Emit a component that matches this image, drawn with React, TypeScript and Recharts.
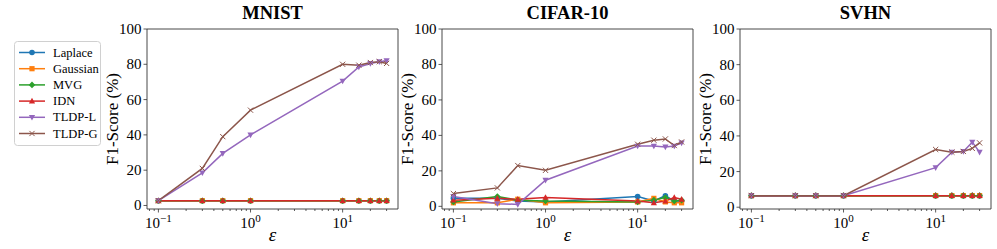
import React from 'react';
import { LineChart, Line, XAxis, YAxis, ReferenceArea } from 'recharts';

// epsilon values shared by all three panels
const epsValues = [0.1, 0.3, 0.5, 1, 10, 15, 20, 25, 30];

const seriesNames = ['Laplace', 'Gaussian', 'MVG', 'IDN', 'TLDP-L', 'TLDP-G'];
const seriesKeys = ['laplace', 'gaussian', 'mvg', 'idn', 'tldpL', 'tldpG'];
const seriesColors = ['#1f77b4', '#ff7f0e', '#2ca02c', '#d62728', '#9467bd', '#8c564b'];
const seriesMarkers = ['circle', 'square', 'diamond', 'triangle', 'triangleDown', 'x'];

// MNIST
const mnistLaplace = [2.7, 2.7, 2.7, 2.7, 2.7, 2.7, 2.7, 2.7, 2.7];
const mnistGaussian = [2.7, 2.7, 2.7, 2.7, 2.7, 2.7, 2.7, 2.7, 2.7];
const mnistMvg = [2.7, 2.7, 2.7, 2.7, 2.7, 2.7, 2.7, 2.7, 2.7];
const mnistIdn = [2.7, 2.7, 2.7, 2.7, 2.7, 2.7, 2.7, 2.7, 2.7];
const mnistTldpL = [2.7, 18.5, 29.5, 40, 70.5, 78.5, 80.5, 81.5, 82];
const mnistTldpG = [2.7, 21, 39, 54, 80, 79.5, 81, 81.5, 80.5];

// CIFAR-10
const cifarLaplace = [4.5, 4.5, 3, 2.5, 5.5, 3, 6, 3, 3];
const cifarGaussian = [2, 2, 4, 2, 2.5, 4.5, 2.5, 2, 2];
const cifarMvg = [2.5, 5.5, 3.5, 3, 2.5, 3.5, 5, 3, 3.5];
const cifarIdn = [3.5, 4.5, 4, 5, 3, 2, 3, 5, 4];
const cifarTldpL = [5.6, 1.5, 1.1, 14.7, 34, 34, 33.5, 34, 35.8];
const cifarTldpG = [7.2, 10.4, 23, 20.3, 35, 37.3, 38, 34.3, 36.3];

// SVHN
const svhnLaplace = [6.5, 6.5, 6.5, 6.5, 6.5, 6.5, 6.5, 6.5, 6.5];
const svhnGaussian = [6.5, 6.5, 6.5, 6.5, 6.5, 6.5, 6.5, 6.5, 6.5];
const svhnMvg = [6.5, 6.5, 6.5, 6.5, 6.5, 6.5, 6.5, 6.5, 6.5];
const svhnIdn = [6.5, 6.5, 6.5, 6.5, 6.5, 6.5, 6.5, 6.5, 6.5];
const svhnTldpL = [6.5, 6.5, 6.5, 6.5, 22.2, 30.9, 31.3, 36.5, 30.9];
const svhnTldpG = [6.5, 6.5, 6.5, 6.5, 32.4, 30.9, 31.3, 33, 36.1];

const yTicks = [0, 20, 40, 60, 80, 100];
const xMajorTicks = [0.1, 1, 10];
const xMinorTicks = [0.08, 0.09, 0.2, 0.3, 0.4, 0.5, 0.6, 0.7, 0.8, 0.9, 2, 3, 4, 5, 6, 7, 8, 9, 20, 30];
const xDomain: [number, number] = [0.0752, 39.9];

const FONT = '"Liberation Serif", "Times New Roman", serif';
const AXIS = '#333';

const buildRows = (cols: number[][]) =>
  epsValues.map((eps, i) => {
    const row: Record<string, number> = { eps };
    seriesKeys.forEach((k, j) => (row[k] = cols[j][i]));
    return row;
  });

const Marker = ({ shape, color, cx, cy }: { shape: string; color: string; cx: number; cy: number }) => {
  if (cx == null || cy == null) return null;
  switch (shape) {
    case 'circle':
      return <circle cx={cx} cy={cy} r={2.8} fill={color} />;
    case 'square':
      return <rect x={cx - 2.6} y={cy - 2.6} width={5.2} height={5.2} fill={color} />;
    case 'diamond':
      return <polygon points={`${cx},${cy - 3.3} ${cx + 3.3},${cy} ${cx},${cy + 3.3} ${cx - 3.3},${cy}`} fill={color} />;
    case 'triangle':
      return <polygon points={`${cx},${cy - 3.3} ${cx + 3.1},${cy + 2.4} ${cx - 3.1},${cy + 2.4}`} fill={color} />;
    case 'triangleDown':
      return <polygon points={`${cx},${cy + 3.3} ${cx + 3.1},${cy - 2.4} ${cx - 3.1},${cy - 2.4}`} fill={color} />;
    default:
      return (
        <g stroke={color} strokeWidth={1}>
          <line x1={cx - 2.6} y1={cy - 2.6} x2={cx + 2.6} y2={cy + 2.6} />
          <line x1={cx - 2.6} y1={cy + 2.6} x2={cx + 2.6} y2={cy - 2.6} />
        </g>
      );
  }
};

const XTick = (props: any) => {
  const { x, y, payload } = props;
  const v = payload.value;
  const major = xMajorTicks.includes(v);
  const exp = Math.round(Math.log10(v));
  return (
    <g>
      <line x1={x} x2={x} y1={y} y2={y + (major ? 3.5 : 2)} stroke={AXIS} strokeWidth={0.8} />
      {major && (
        <text x={x} y={y + 19} textAnchor="middle" fontSize={15} fill="#000" fontFamily={FONT}>
          10
          <tspan dy={-6} fontSize={11}>{exp < 0 ? '\u2212' + Math.abs(exp) : String(exp)}</tspan>
        </text>
      )}
    </g>
  );
};

const YTick = (props: any) => {
  const { x, y, payload } = props;
  return (
    <g>
      <line x1={x - 3.5} x2={x} y1={y} y2={y} stroke={AXIS} strokeWidth={0.8} />
      <text x={x - 5.5} y={y} textAnchor="end" dominantBaseline="central" fontSize={15} fill="#000" fontFamily={FONT}>
        {payload.value}
      </text>
    </g>
  );
};

const renderYLabel = (props: any) => {
  const { viewBox } = props;
  const cx = viewBox.x + viewBox.width - 35;
  const cy = viewBox.y + viewBox.height / 2;
  return (
    <text x={cx} y={cy} transform={`rotate(-90 ${cx} ${cy})`} textAnchor="middle" dominantBaseline="central"
      fontSize={17} fill="#000" fontFamily={FONT}>
      F1-Score (%)
    </text>
  );
};

interface PanelProps {
  title: string;
  rows: Record<string, number>[];
  left: number;
  yMin: number;
}

const Panel = ({ title, rows, left, yMin }: PanelProps) => (
  <div style={{ position: 'absolute', left, top: 0 }}>
    <LineChart width={301} height={249} data={rows} margin={{ top: 29, right: 5, bottom: 0, left: 0 }}>
      <XAxis
        dataKey="eps"
        type="number"
        scale="log"
        domain={xDomain}
        allowDataOverflow
        ticks={[...xMajorTicks, ...xMinorTicks]}
        interval={0}
        tick={<XTick />}
        tickLine={false}
        tickSize={0}
        tickMargin={0}
        axisLine={false}
        height={40}
        label={{ value: '\u03b5', position: 'insideBottom', offset: 8, fontSize: 19, fontStyle: 'italic', fill: '#000', fontFamily: FONT }}
      />
      <YAxis
        type="number"
        domain={[yMin, 100]}
        allowDataOverflow
        ticks={yTicks}
        interval={0}
        tick={<YTick />}
        tickLine={false}
        tickSize={0}
        tickMargin={0}
        axisLine={false}
        width={45}
        label={renderYLabel}
      />
      <ReferenceArea
        x1={xDomain[0]}
        x2={xDomain[1]}
        y1={yMin}
        y2={100}
        fill="none"
        stroke={AXIS}
        strokeWidth={0.9}
        label={{ value: title, position: 'top', offset: 10, fontSize: 18.5, fontWeight: 'bold', fill: '#000', fontFamily: FONT }}
      />
      {seriesKeys.map((k, j) => (
        <Line
          key={k}
          dataKey={k}
          type="linear"
          stroke={seriesColors[j]}
          strokeWidth={1.5}
          isAnimationActive={false}
          activeDot={false}
          dot={(p: any) => <Marker key={`${k}-${p.index}`} shape={seriesMarkers[j]} color={seriesColors[j]} cx={p.cx} cy={p.cy} />}
        />
      ))}
    </LineChart>
  </div>
);

const LegendBox = () => (
  <svg style={{ position: 'absolute', left: 14, top: 41 }} width={88} height={106}>
    <rect x={0.5} y={0.5} width={86} height={104} rx={3} fill="#fff" stroke="#d0d0d0" strokeWidth={1} />
    {seriesNames.map((name, i) => {
      const cy = 11.5 + i * 16.2;
      return (
        <g key={name}>
          <line x1={5} x2={31} y1={cy} y2={cy} stroke={seriesColors[i]} strokeWidth={1.5} />
          <Marker shape={seriesMarkers[i]} color={seriesColors[i]} cx={18} cy={cy} />
          <text x={39} y={cy} dominantBaseline="central" fontSize={12.5} fill="#000" fontFamily={FONT}>
            {name}
          </text>
        </g>
      );
    })}
  </svg>
);

const mnistRows = buildRows([mnistLaplace, mnistGaussian, mnistMvg, mnistIdn, mnistTldpL, mnistTldpG]);
const cifarRows = buildRows([cifarLaplace, cifarGaussian, cifarMvg, cifarIdn, cifarTldpL, cifarTldpG]);
const svhnRows = buildRows([svhnLaplace, svhnGaussian, svhnMvg, svhnIdn, svhnTldpL, svhnTldpG]);

export default function App() {
  return (
    <div style={{ position: 'absolute', left: 0, top: 0, width: 997, height: 249, background: '#fff', fontFamily: FONT }}>
      <LegendBox />
      <Panel title="MNIST" rows={mnistRows} left={102} yMin={-2} />
      <Panel title="CIFAR-10" rows={cifarRows} left={397} yMin={-1.5} />
      <Panel title="SVHN" rows={svhnRows} left={695} yMin={-1} />
    </div>
  );
}
